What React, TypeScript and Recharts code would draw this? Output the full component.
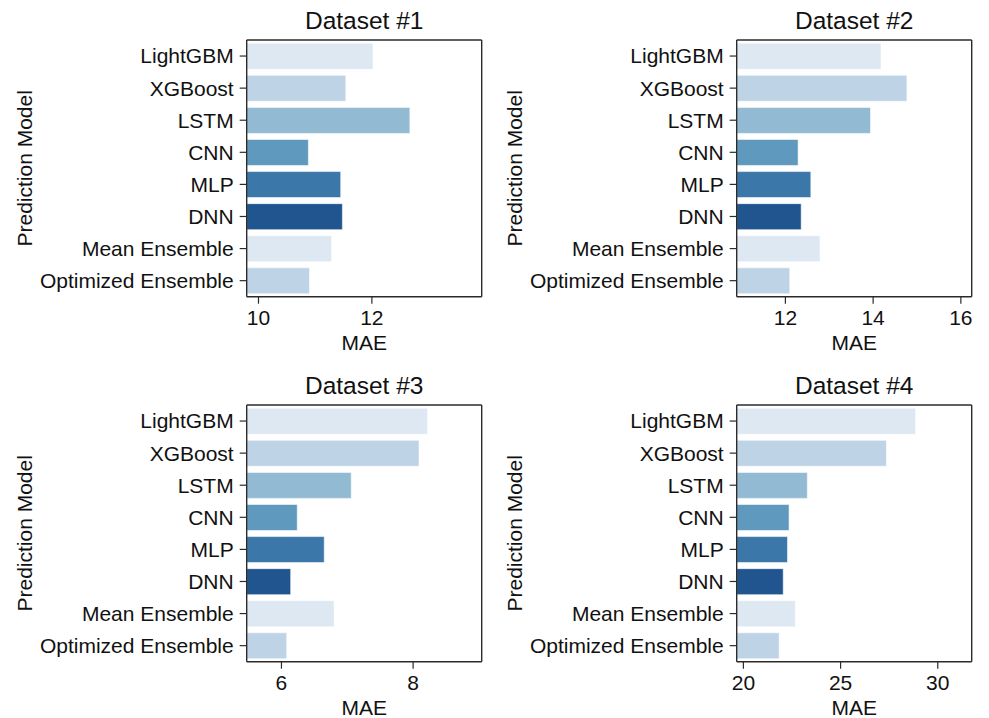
import React from 'react';
import { BarChart, Bar, XAxis, YAxis, Cell, Label, CartesianGrid } from 'recharts';

const MODELS = [
  'LightGBM',
  'XGBoost',
  'LSTM',
  'CNN',
  'MLP',
  'DNN',
  'Mean Ensemble',
  'Optimized Ensemble',
];

const MAE_DATASET_1 = [12.02, 11.54, 12.67, 10.88, 11.45, 11.48, 11.29, 10.9];
const MAE_DATASET_2 = [14.18, 14.77, 13.94, 12.29, 12.58, 12.36, 12.79, 12.1];
const MAE_DATASET_3 = [8.22, 8.09, 7.06, 6.24, 6.65, 6.14, 6.8, 6.08];
const MAE_DATASET_4 = [28.86, 27.36, 23.29, 22.35, 22.27, 22.05, 22.67, 21.84];

const TICKS_1 = [10, 12];
const TICKS_2 = [12, 14, 16];
const TICKS_3 = [6, 8];
const TICKS_4 = [20, 25, 30];

const TITLES = ['Dataset #1', 'Dataset #2', 'Dataset #3', 'Dataset #4'];

// seaborn "Blues" palette, cycled over the 8 bars
const COLORS = ['#dde8f3', '#bed4e6', '#92bad3', '#6099be', '#3c77a9', '#205590', '#dde8f3', '#bed4e6'];

const FONT = '"Liberation Sans", Arial, Helvetica, sans-serif';
const SPINE = '#2b2b2b';
const TEXT = '#111';

const CHART_W = 490;
const CHART_H = 355;
const Y_AXIS_W = 246.7;
const MARGIN = { top: 40, right: 8.3, bottom: 5, left: 0 };

interface PanelProps {
  title: string;
  values: number[];
  ticks: number[];
  left: number;
  top: number;
}

const Panel: React.FC<PanelProps> = ({ title, values, ticks, left, top }) => {
  const data = MODELS.map((model, i) => ({ model, mae: values[i] }));
  // same limits as the original: 0.9 * min .. 1.1 * max
  const domain: [number, number] = [Math.min(...values) * 0.9, Math.max(...values) * 1.1];

  return (
    <div style={{ position: 'absolute', left, top, width: CHART_W, height: CHART_H }}>
      <div
        style={{
          position: 'absolute',
          left: Y_AXIS_W,
          width: CHART_W - Y_AXIS_W - MARGIN.right,
          top: 8.6,
          fontFamily: FONT,
          fontSize: 24.5,
          lineHeight: '24.5px',
          color: TEXT,
          textAlign: 'center',
        }}
      >
        {title}
      </div>
      <BarChart
        width={CHART_W}
        height={CHART_H}
        data={data}
        layout="vertical"
        barCategoryGap="10%"
        margin={MARGIN}
        style={{ fontFamily: FONT }}
      >
        {/* top and right spines of the axes box */}
        <CartesianGrid
          stroke={SPINE}
          strokeWidth={1.4}
          horizontalCoordinatesGenerator={({ offset }: any) => [offset.top]}
          verticalCoordinatesGenerator={({ offset }: any) => [offset.left + offset.width]}
        />
        <XAxis
          type="number"
          dataKey="mae"
          domain={domain}
          ticks={ticks}
          allowDataOverflow
          height={53.3}
          tickSize={7}
          tickMargin={6}
          tick={{ fontSize: 21, fill: TEXT }}
          axisLine={{ stroke: SPINE, strokeWidth: 1.4 }}
          tickLine={{ stroke: SPINE, strokeWidth: 1.2 }}
        >
          <Label value="MAE" position="insideBottom" offset={0} style={{ fontSize: 21, fill: TEXT }} />
        </XAxis>
        <YAxis
          type="category"
          dataKey="model"
          width={Y_AXIS_W}
          tickSize={7}
          tickMargin={6}
          interval={0}
          tick={{ fontSize: 21, fill: TEXT }}
          axisLine={{ stroke: SPINE, strokeWidth: 1.4 }}
          tickLine={{ stroke: SPINE, strokeWidth: 1.2 }}
        >
          <Label
            value="Prediction Model"
            angle={-90}
            position="insideLeft"
            offset={24.5}
            style={{ fontSize: 21, fill: TEXT, textAnchor: 'middle' }}
          />
        </YAxis>
        <Bar dataKey="mae" isAnimationActive={false} stroke="rgba(255,255,255,0.55)" strokeWidth={1}>
          {data.map((entry, index) => (
            <Cell key={`cell-${index}`} fill={COLORS[index]} />
          ))}
        </Bar>
      </BarChart>
    </div>
  );
}

export default function App() {
  return (
    <div style={{ position: 'absolute', left: 0, top: 0, width: 989, height: 718, background: '#fff' }}>
      <Panel title={TITLES[0]} values={MAE_DATASET_1} ticks={TICKS_1} left={0} top={0} />
      <Panel title={TITLES[1]} values={MAE_DATASET_2} ticks={TICKS_2} left={490} top={0} />
      <Panel title={TITLES[2]} values={MAE_DATASET_3} ticks={TICKS_3} left={0} top={365} />
      <Panel title={TITLES[3]} values={MAE_DATASET_4} ticks={TICKS_4} left={490} top={365} />
    </div>
  );
}
